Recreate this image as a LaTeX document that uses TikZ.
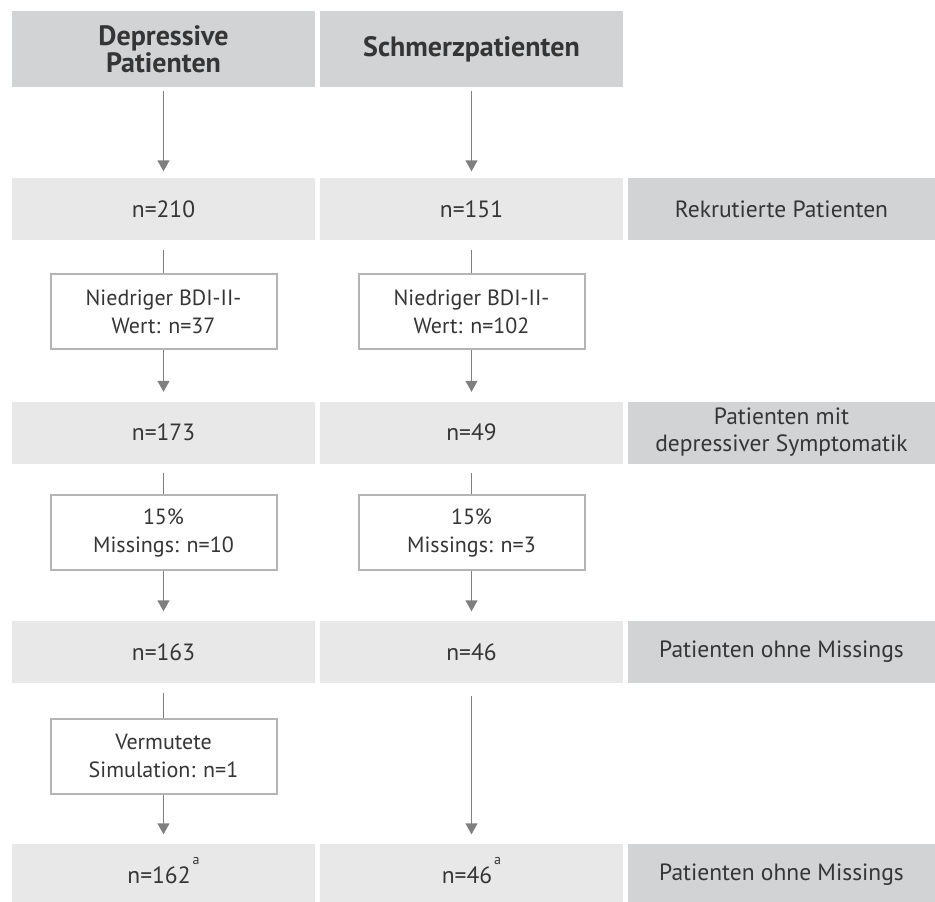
\documentclass[tikz,border=0pt]{standalone}
\usepackage{fontspec}
\setmainfont{PT Sans}
\usetikzlibrary{arrows.meta}
\definecolor{headgray}{HTML}{D2D3D5}
\definecolor{rowgray}{HTML}{E8E8E8}
\definecolor{linegray}{HTML}{7F7F7F}
\definecolor{framegray}{HTML}{B4B4B4}
\definecolor{textgray}{HTML}{353535}
\newcommand{\footmark}{\hspace{2pt}\smash{\raisebox{19pt}{\fontsize{14}{14}\selectfont a}}}

\begin{document}
\begin{tikzpicture}[x=1pt,y=1pt,>={Triangle[width=12pt,length=11pt]},line width=1.4pt,node distance=308pt,
  head node/.style={fill=headgray,text=textgray,font=\fontsize{28}{27}\selectfont\bfseries,minimum width=303pt,minimum height=76pt,align=center,inner sep=0pt},
  count node/.style={fill=rowgray,text=textgray,font=\fontsize{23.5}{27}\selectfont,minimum width=303pt,minimum height=62pt,align=center,inner sep=0pt},
  label node/.style={count node,fill=headgray,minimum width=307pt},
  drop node/.style={draw=framegray,line width=2pt,fill=white,text=textgray,font=\fontsize{22}{28}\selectfont,minimum width=226pt,minimum height=75pt,align=center,inner sep=0pt}]

  \useasboundingbox (0,0) rectangle (935,-902);

  \node[head node] (DP) at (163.5,-49) {Depressive\\Patienten};
  \node[head node] (SP) [right of=DP] {Schmerzpatienten};

  \node[count node] (DP1) [below of=DP, node distance=160pt] {n=210};
  \node[count node] (SP1) [right of=DP1] {n=151};
  \node[label node] (L1) [right of=SP1, xshift=2pt] {Rekrutierte Patienten};

  \node[drop node] (DB1) [below of=DP1, node distance=102.5pt] {Niedriger BDI-II-\\Wert: n=37};
  \node[drop node] (SB1) [right of=DB1] {Niedriger BDI-II-\\Wert: n=102};

  \node[count node] (DP2) [below of=DP1, node distance=223.5pt] {n=173};
  \node[count node] (SP2) [right of=DP2] {n=49};
  \node[label node] (L2) [right of=SP2, xshift=2pt] {Patienten mit\\depressiver Symptomatik};

  \node[drop node] (DB2) [below of=DP2, node distance=100pt] {15\%\\Missings: n=10};
  \node[drop node] (SB2) [right of=DB2] {15\%\\Missings: n=3};

  \node[count node] (DP3) [below of=DP2, node distance=219.5pt] {n=163};
  \node[count node] (SP3) [right of=DP3] {n=46};
  \node[label node] (L3) [right of=SP3, xshift=2pt] {Patienten ohne Missings};

  \node[drop node] (DB3) [below of=DP3, node distance=104pt] {Vermutete\\Simulation: n=1};

  \node[count node] (DP4) [below of=DP3, node distance=223pt] {n=162\footmark};
  \node[count node] (SP4) [right of=DP4] {n=46\footmark};
  \node[label node] (L4) [right of=SP4, xshift=2pt] {Patienten ohne Missings};

  \path[->,color=linegray,shorten <=3pt,shorten >=6pt]
       (DP) edge (DP1)
       (SP) edge (SP1);

  \path[-,color=linegray,shorten <=9pt]
       (DP1) edge (DB1)
       (SP1) edge (SB1)
       (DP2) edge (DB2)
       (SP2) edge (SB2)
       (DP3) edge (DB3);

  \path[->,color=linegray,shorten >=9pt]
       (DB1) edge (DP2)
       (SB1) edge (SP2)
       (DB2) edge (DP3)
       (SB2) edge (SP3)
       (DB3) edge (DP4);

  \path[->,color=linegray,shorten <=12pt,shorten >=9pt]
       (SP3) edge (SP4);
\end{tikzpicture}
\end{document}
